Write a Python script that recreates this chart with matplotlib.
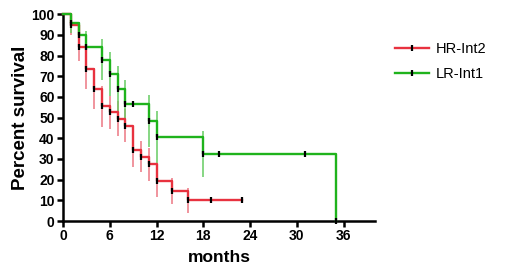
import matplotlib
matplotlib.use("Agg")
import matplotlib.pyplot as plt
from matplotlib.lines import Line2D
import numpy as np

plt.rcParams['font.family'] = ['Liberation Sans', 'DejaVu Sans']

# Kaplan-Meier steps (months, percent survival) and error bar half-lengths
hr_time = [0, 1, 2, 3, 4, 5, 6, 7, 8, 9, 10, 11, 12, 14, 16]
hr_surv = [100, 94.7, 84.2, 73.7, 64, 55.5, 52.5, 49.5, 46, 34.5, 31, 27.5, 19.5, 14.5, 10]
hr_err = [0, 5, 7, 10, 10, 10, 8, 8.5, 8, 8.5, 7.5, 8, 8, 6.5, 6]
hr_end = 23
hr_cens = [19, 23]

lr_time = [0, 1, 2, 3, 5, 6, 7, 8, 11, 12, 18, 35]
lr_surv = [100, 95.5, 90, 84, 78, 71, 64, 56.5, 48.5, 40.5, 32.5, 0]
lr_err = [0, 4.5, 6, 8, 10, 10.5, 11, 11.5, 12.5, 12.5, 11, 0]
lr_end = 35
lr_cens = [9, 20, 31]

labels = ['HR-Int2', 'LR-Int1']
colors = ['#e8323f', '#1fb31c']
err_colors = ['#ec7683', '#66cc62']

fig = plt.figure(figsize=(5.2, 2.77), dpi=100)
ax = fig.add_axes([0.121, 0.202, 0.6, 0.747])


def draw_curve(t, s, e, end, cens, col, ecol):
    t = np.array(t, float)
    s = np.array(s, float)
    e = np.array(e, float)
    tt = np.append(t, end)
    ss = np.append(s, s[-1])
    # error bars at each event
    m = e > 0
    ax.vlines(t[m], s[m] - e[m], s[m] + e[m], color=ecol, lw=1.1, zorder=2)
    ax.step(tt, ss, where='post', color=col, lw=1.7, zorder=3, clip_on=False)
    # tick symbols at each event and each censored subject
    cy = [s[np.searchsorted(t, c, side='right') - 1] for c in cens]
    ax.plot(t[1:], s[1:], ls='none', marker='|', ms=5, mew=1.6, color='black',
            zorder=4, clip_on=False)
    ax.plot(cens, cy, ls='none', marker='|', ms=5, mew=1.6, color='black',
            zorder=4, clip_on=False)


draw_curve(hr_time, hr_surv, hr_err, hr_end, hr_cens, colors[0], err_colors[0])
draw_curve(lr_time, lr_surv, lr_err, lr_end, lr_cens, colors[1], err_colors[1])

ax.set_xlim(0, 40)
ax.set_ylim(0, 100)
ax.set_xticks([0, 6, 12, 18, 24, 30, 36])
ax.set_yticks(range(0, 101, 10))
for sp in ['top', 'right']:
    ax.spines[sp].set_visible(False)
for sp in ['left', 'bottom']:
    ax.spines[sp].set_linewidth(1.8)
ax.tick_params(width=1.8, length=4, labelsize=10, pad=2)
for lab in ax.get_xticklabels() + ax.get_yticklabels():
    lab.set_fontweight('bold')

ax.set_xlabel('months', fontsize=12.5, fontweight='bold', labelpad=5)
ax.set_ylabel('Percent survival', fontsize=13.5, fontweight='bold', labelpad=2)

# legend: coloured line with a single black tick in the middle
tick = Line2D([0], [0], ls='none', marker='|', ms=5, mew=1.6, color='black')
handles = [(Line2D([0], [0], color=c, lw=1.7), tick) for c in colors]
fig.legend(handles, labels, loc='upper left', bbox_to_anchor=(0.735, 0.895),
           frameon=False, fontsize=10.5, handlelength=2.3, labelspacing=0.75,
           numpoints=1, handletextpad=0.5)

fig.savefig('out.png', dpi=100)
